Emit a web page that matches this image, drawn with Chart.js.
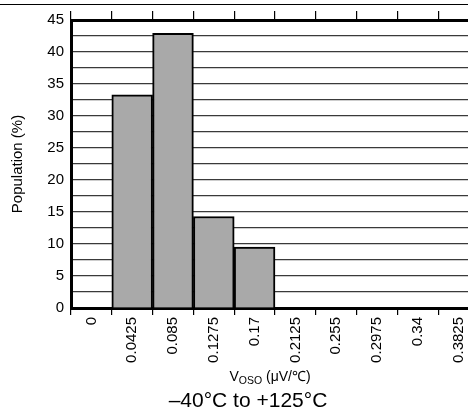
<!DOCTYPE html>
<html>
<head>
<meta charset="utf-8">
<script src="https://cdn.jsdelivr.net/npm/chart.js@4"></script>
<style>
  html, body { margin: 0; padding: 0; background: #fff; }
  body { width: 468px; height: 412px; overflow: hidden; position: relative; }
  #frame { position: absolute; left: 0; top: 4px; width: 468px; border-top: 1.5px solid #000; }
  #wrap { position: absolute; left: 0; top: 0; width: 482px; height: 412px; }
  .lbl { position: absolute; font-family: "Liberation Sans", Arial, sans-serif; color: #000; text-align: center; white-space: nowrap; }
  #xtitle { left: 170px; top: 369px; width: 200px; font-size: 14px; line-height: 14px; }
  #xtitle .sub { font-size: 10.5px; position: relative; top: 3px; }
  #subtitle { left: 98px; top: 389px; width: 300px; font-size: 21px; line-height: 21px; }
</style>
</head>
<body>
<div id="frame"></div>
<div id="wrap"><canvas id="c" width="482" height="412"></canvas></div>
<div class="lbl" id="xtitle">V<span class="sub">OSO</span> (μV/℃)</div>
<div class="lbl" id="subtitle">–40°C to +125°C</div>
<script>
// Offset-drift bins (µV/°C) and share of units in each bin (%)
const binLabels = ['0', '0.0425', '0.085', '0.1275', '0.17', '0.2125', '0.255', '0.2975', '0.34', '0.3825'];
const population = [0, 33.3, 42.9, 14.3, 9.5, 0, 0, 0, 0, 0];
const yMin = 0;
const yMax = 45;
const yStep = 2.5;
const yLabelEvery = 5;

const FONT = '"Liberation Sans", Arial, sans-serif';

new Chart(document.getElementById('c'), {
  type: 'bar',
  data: {
    labels: binLabels,
    datasets: [{
      data: population,
      backgroundColor: '#a9a9a9',
      borderColor: '#000',
      borderWidth: 2,
      barPercentage: 1,
      categoryPercentage: 1
    }]
  },
  options: {
    responsive: false,
    animation: false,
    devicePixelRatio: 1,
    layout: { padding: { top: 11, right: 3, bottom: 0, left: 0 } },
    plugins: { legend: { display: false }, tooltip: { enabled: false } },
    scales: {
      x: {
        position: 'bottom',
        offset: true,
        grid: { offset: true, drawOnChartArea: false, drawTicks: true, tickLength: 7, color: '#000', lineWidth: 1.2 },
        border: { display: true, color: '#000', width: 3 },
        ticks: {
          autoSkip: false, minRotation: 90, maxRotation: 90, padding: 2,
          color: '#000', font: { family: FONT, size: 15 }
        },
        afterFit(scale) { scale.height = 104; }
      },
      x2: {
        type: 'category',
        labels: binLabels,
        position: 'top',
        offset: true,
        grid: { offset: true, drawOnChartArea: false, drawTicks: true, tickLength: 9, color: '#000', lineWidth: 1.2 },
        border: { display: true, color: '#000', width: 3 },
        ticks: { display: false }
      },
      y: {
        min: yMin,
        max: yMax,
        grid: { drawTicks: false, color: '#3a3a3a', lineWidth: 1.2 },
        border: { display: true, color: '#000', width: 3 },
        ticks: {
          stepSize: yStep,
          autoSkip: false,
          padding: 7,
          color: '#000',
          font: { family: FONT, size: 15 },
          callback: (v) => (v % yLabelEvery === 0 ? String(v) : '')
        },
        title: {
          display: true,
          text: 'Population (%)',
          color: '#000',
          font: { family: FONT, size: 15 },
          padding: { top: 9, bottom: 0 }
        },
        afterFit(scale) { scale.width = 71; }
      }
    }
  }
});
</script>
</body>
</html>
